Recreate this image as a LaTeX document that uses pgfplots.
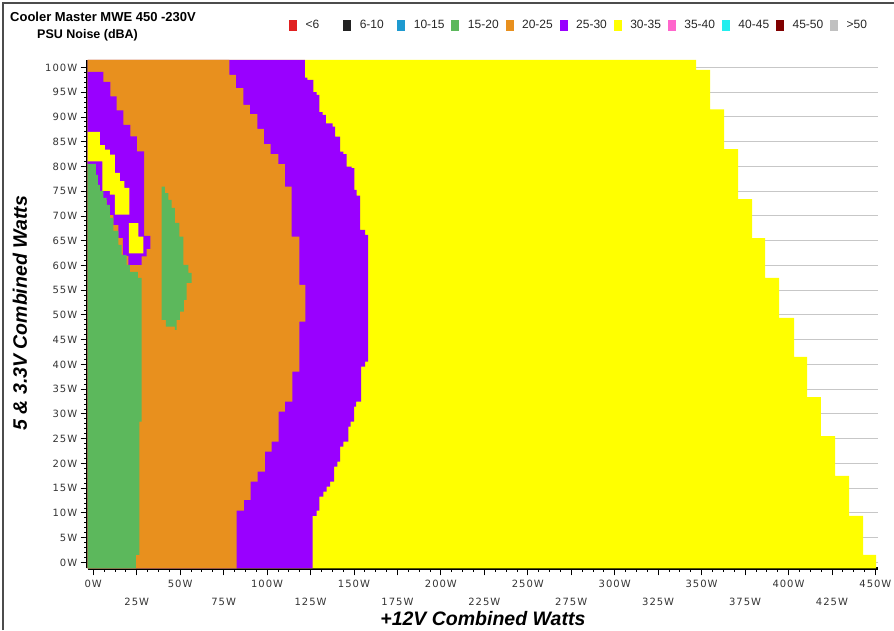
\documentclass[border=0pt]{standalone}
\usepackage{fontspec}
\setmainfont{Liberation Sans}
\newfontfamily\tickfont[LetterSpace=10]{DejaVu Sans}
\usepackage{pgfplots}
\pgfplotsset{compat=1.18}
\definecolor{cy}{HTML}{FFFF00}
\definecolor{cp}{HTML}{9900FF}
\definecolor{co}{HTML}{E8901E}
\definecolor{cg}{HTML}{5CB85C}
\definecolor{cr}{HTML}{E02020}
\definecolor{ck}{HTML}{222222}
\definecolor{cb}{HTML}{1E9AD0}
\definecolor{cpk}{HTML}{FF66CC}
\definecolor{ccy}{HTML}{22EEEE}
\definecolor{cdr}{HTML}{800000}
\definecolor{cgr}{HTML}{C0C0C0}
\newcommand\lt[1]{\makebox[35.6pt][l]{#1}}
\begin{document}
\begin{tikzpicture}
\useasboundingbox (0pt,0pt) rectangle (894pt,630pt);
\draw[black!70, line width=1.2pt] (3pt,0pt) -- (3pt,627pt) -- (894pt,627pt);
\node[anchor=base west, font=\bfseries\fontsize{13}{15}\selectfont, inner sep=0pt] at (10pt,608pt) {Cooler Master MWE 450 -230V};
\node[anchor=base west, font=\bfseries\fontsize{12.5}{15}\selectfont, inner sep=0pt] at (37pt,591pt) {PSU Noise (dBA)};
\begin{axis}[
  at={(87.7pt,61.7pt)}, anchor=south west,
  scale only axis, width=790.3pt, height=508.3pt,
  xmin=-3.2, xmax=451.5, ymin=-1.2, ymax=101.5,
  axis x line*=bottom, axis y line*=left,
  axis line style={line width=3.2pt, black},
  xtick={0,50,...,450},
  xticklabels={0W,50W,100W,150W,200W,250W,300W,350W,400W,450W},
  xticklabel style={yshift=-1.5pt},
  extra x ticks={25,75,...,425},
  extra x tick labels={25W,75W,125W,175W,225W,275W,325W,375W,425W},
  extra x tick style={xticklabel style={yshift=-18pt}},
  minor x tick num=7,
  ytick={0,5,...,100},
  yticklabels={0W,5W,10W,15W,20W,25W,30W,35W,40W,45W,50W,55W,60W,65W,70W,75W,80W,85W,90W,95W,100W},
  minor y tick num=4,
  tick align=outside,
  major tick length=7pt, minor tick length=3.5pt,
  tick style={black, line width=0.8pt},
  ymajorgrids, grid style={black!22, line width=0.9pt},
  ticklabel style={font={\tickfont\fontsize{10}{11}\selectfont}, text=black!80},
  xlabel={+12V Combined Watts},
  xlabel style={at={(axis description cs:0.5,-0.0997)}, anchor=center, font={\bfseries\itshape\fontsize{19.5}{22}\selectfont}},
  ylabel={5 \& 3.3V Combined Watts},
  ylabel style={at={(axis description cs:-0.0857,0.502)}, anchor=center, font={\bfseries\itshape\fontsize{19.5}{22}\selectfont}},
  legend columns=11,
  legend image code/.code={\fill[#1, draw=none] (0pt,-5.25pt) rectangle (8pt,5.25pt); \path[draw=none, fill=none] (0pt,0pt) -- (14.5pt,0pt);},
  legend style={at={(axis description cs:0.2547,1.0679)}, anchor=west, draw=none, fill=none, inner sep=0pt, font={\fontsize{12}{13}\selectfont}, text=black!85},
]
% yellow 30-35 (outer staircase)
\addplot[fill=cy, draw=none, forget plot] coordinates {
(-3.2,-1.2) (450.4,-1.2) (450.4,1.5) (442.9,1.5) (442.9,9.4) (434.9,9.4) (434.9,17.5) (426.8,17.5) (426.8,25.5) (418.7,25.5) (418.7,33.4) (410.7,33.4) (410.7,41.5) (403.2,41.5) (403.2,49.4) (394.6,49.4) (394.6,57.5) (386.5,57.5) (386.5,65.5) (379.1,65.5) (379.1,73.4) (371.0,73.4) (371.0,83.5) (363.0,83.5) (363.0,91.5) (354.9,91.5) (354.9,99.5) (346.8,99.5) (346.8,101.5) (-3.2,101.5)};
% purple 25-30 band
\addplot[fill=cp, draw=none, forget plot] coordinates {
(-3.2,-1.2) (126.25,-1.2) (126.25,9.38) (128.55,9.38) (128.55,10.45) (130.05,10.45) (130.05,13.28) (132.35,13.28) (132.35,14.29) (134.31,14.29) (134.31,15.30) (136.21,15.30) (136.21,16.31) (138.51,16.31) (138.51,19.34) (140.41,19.34) (140.41,20.35) (141.97,20.35) (141.97,23.38) (143.86,23.38) (143.86,24.39) (146.74,24.39) (146.74,27.42) (148.12,27.42) (148.12,28.43) (150.02,28.43) (150.02,31.46) (151.17,31.46) (151.17,32.47) (154.05,32.47) (154.05,39.54) (156.35,39.54) (156.35,40.55) (158.07,40.55) (158.07,66.15) (156.35,66.15) (156.35,67.16) (153.47,67.16) (153.47,74.10) (151.57,74.10) (151.57,75.25) (150.19,75.25) (150.19,79.63) (148.70,79.63) (148.70,79.95) (145.82,79.95) (145.82,82.46) (143.86,82.46) (143.86,82.99) (141.97,82.99) (141.97,86.02) (139.09,86.02) (139.09,88.04) (137.76,88.04) (137.76,88.72) (133.90,88.72) (133.90,90.40) (132.01,90.40) (132.01,90.95) (130.05,90.95) (130.05,94.44) (128.55,94.44) (128.55,94.99) (126.60,94.99) (126.60,97.47) (123.14,97.47) (123.14,97.94) (121.82,97.94) (121.82,101.5) (-3.2,101.5)};
% orange 20-25
\addplot[fill=co, draw=none, forget plot] coordinates {
(-3.2,-1.2) (82.52,-1.2) (82.52,10.45) (86.72,10.45) (86.72,12.61) (90.58,12.61) (90.58,16.31) (94.60,16.31) (94.60,18.33) (98.80,18.33) (98.80,22.37) (102.66,22.37) (102.66,24.39) (106.69,24.39) (106.69,30.45) (110.31,30.45) (110.31,32.47) (114.51,32.47) (114.51,38.53) (118.54,38.53) (118.54,48.64) (122.11,48.64) (122.11,56.05) (118.54,56.05) (118.54,65.81) (114.17,65.81) (114.17,75.91) (110.31,75.91) (110.31,80.44) (106.46,80.44) (106.46,82.46) (102.08,82.46) (102.08,84.48) (98.23,84.48) (98.23,87.57) (94.37,87.57) (94.37,90.54) (90.17,90.54) (90.17,92.42) (86.32,92.42) (86.32,95.80) (82.11,95.80) (82.11,98.49) (78.26,98.49) (78.26,101.5) (-3.2,101.5)};
% purple 25-30 blob, upper left
\addplot[fill=cp, draw=none, forget plot] coordinates {
(-3.2,99.09) (5.75,99.09) (5.75,97.07) (9.78,97.07) (9.78,94.14) (13.47,94.14) (13.47,91.31) (17.26,91.31) (17.26,88.38) (21.29,88.38) (21.29,86.06) (25.15,86.06) (25.15,83.03) (29.29,83.03) (29.29,65.95) (32.80,65.95) (32.80,63.33) (30.73,63.33) (30.73,61.81) (27.85,61.81) (27.85,60.09) (20.26,60.09) (20.26,61.91) (17.09,61.91) (17.09,65.55) (14.39,65.55) (14.39,68.18) (11.51,68.18) (11.51,70.20) (7.71,70.20) (7.71,73.23) (3.86,73.23) (3.86,75.25) (1.55,75.25) (1.55,80.5) (-3.2,80.5)};
% yellow 30-35 islands
\addplot[fill=cy, draw=none, forget plot] coordinates {
(-3.2,86.97) (3.86,86.97) (3.86,84.28) (6.73,84.28) (6.73,83.39) (9.61,83.39) (9.61,82.38) (12.49,82.38) (12.49,78.68) (15.36,78.68) (15.36,77.01) (17.84,77.01) (17.84,75.65) (20.83,75.65) (20.83,70.26) (12.49,70.26) (12.49,74.30) (9.61,74.30) (9.61,75.05) (5.18,75.05) (5.18,81.01) (-3.2,81.01)};
\addplot[fill=cy, draw=none, forget plot] coordinates {
(20.54,68.52) (25.89,68.52) (25.89,65.81) (28.89,65.81) (28.89,62.42) (20.54,62.42)};
% green 15-20 main
\addplot[fill=cg, draw=none, forget plot] coordinates {
(-3.2,80.5) (1.55,80.5) (1.55,78.28) (2.70,78.28) (2.70,76.26) (3.86,76.26) (3.86,75.05) (5.75,75.05) (5.75,73.63) (7.71,73.63) (7.71,72.22) (9.61,72.22) (9.61,69.59) (11.51,69.59) (11.51,66.96) (14.39,66.96) (14.39,64.13) (16.34,64.13) (16.34,62.11) (19.22,62.11) (19.22,60.09) (21.12,60.09) (21.12,58.68) (25.72,58.68) (25.72,57.47) (27.85,57.47) (27.85,28.43) (26.47,28.43) (26.47,1.50) (24.57,1.50) (24.57,-1.2) (-3.2,-1.2)};
% green island
\addplot[fill=cg, draw=none, forget plot] coordinates {
(39.4,75.91) (41.26,75.91) (41.26,74.58) (43.16,74.58) (43.16,73.23) (45.11,73.23) (45.11,71.61) (47.01,71.61) (47.01,68.58) (49.49,68.58) (49.49,65.81) (51.79,65.81) (51.79,60.09) (54.67,60.09) (54.67,58.48) (56.62,58.48) (56.62,56.46) (53.75,56.46) (53.75,53.02) (52.19,53.02) (52.19,50.66) (49.89,50.66) (49.89,48.98) (47.99,48.98) (47.99,46.96) (47.01,46.96) (47.01,47.63) (41.83,47.63) (41.83,48.98) (39.4,48.98)};
% legend
\addlegendimage{fill=cr}\addlegendentry{\lt{<6}}
\addlegendimage{fill=ck}\addlegendentry{\lt{6-10}}
\addlegendimage{fill=cb}\addlegendentry{\lt{10-15}}
\addlegendimage{fill=cg}\addlegendentry{\lt{15-20}}
\addlegendimage{fill=co}\addlegendentry{\lt{20-25}}
\addlegendimage{fill=cp}\addlegendentry{\lt{25-30}}
\addlegendimage{fill=cy}\addlegendentry{\lt{30-35}}
\addlegendimage{fill=cpk}\addlegendentry{\lt{35-40}}
\addlegendimage{fill=ccy}\addlegendentry{\lt{40-45}}
\addlegendimage{fill=cdr}\addlegendentry{\lt{45-50}}
\addlegendimage{fill=cgr}\addlegendentry{\lt{>50}}
\end{axis}
\end{tikzpicture}
\end{document}
